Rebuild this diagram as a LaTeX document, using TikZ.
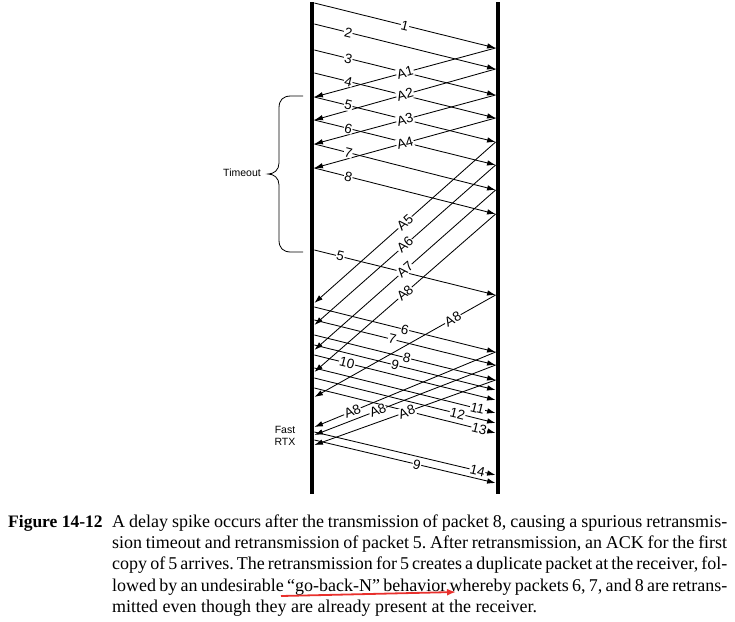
\documentclass[tikz,border=0pt]{standalone}
\usepackage{fontspec}
\setmainfont{Liberation Serif}
\newfontfamily\arialf{Liberation Sans}
\usetikzlibrary{arrows.meta}
\definecolor{redmark}{RGB}{232,48,44}
\begin{document}
\begin{tikzpicture}[x=1pt,y=-1pt,
  pkt/.style={line width=0.85pt,-{Latex[length=8.5pt,width=5.5pt]}},
  lbl/.style={sloped,fill=white,inner sep=0.6pt,font=\arialf\fontsize{13.5}{14}\selectfont},
  bar/.style={line width=4.8pt},
  side/.style={font=\arialf\fontsize{10.5}{12}\selectfont,align=center,inner sep=0},
  capl/.style={anchor=base west,inner sep=0,font=\fontsize{18}{21}\selectfont}]
\useasboundingbox (0,0) rectangle (735,621);
% time lines
\coordinate (ltop) at (312,2); \coordinate (lbot) at (312,494);
\coordinate (rtop) at (498,2); \coordinate (rbot) at (498,494);
\draw[bar] (ltop) -- (lbot);
\draw[bar] (rtop) -- (rbot);
% data packets (left to right)
\foreach \n/\a/\b in {p1/3/48,p2/24/69,p3/50/95,p4/73/118,p5/97/142,p6/120/165,p7/144/190,p8/168/214,
  r5/250/295,q6/307/352,q7/320/365,q8/335/380,q9/345/390,q10/355/400,q11/368/413,q12/378/423,q13/388/433,
  f14/432/475,f9/440/483}{
  \coordinate (\n s) at (314.4,\a);
  \coordinate (\n e) at (495.6,\b);
  \draw[pkt] (\n s) -- (\n e);
}
% acks (right to left)
\foreach \n/\a/\b in {a1/48/97,a2/69/120,a3/95/144,a4/118/168,a5/142/303,a6/165/325,a7/190/350,a8/214/372,
  d1/295/397,d2/352/427,d3/365/435,d4/380/445}{
  \coordinate (\n s) at (495.6,\a);
  \coordinate (\n e) at (314.4,\b);
  \draw[pkt] (\n s) -- (\n e);
}
% labels
\foreach \n/\t/\p in {p1/1/.5,p2/2/.187,p3/3/.187,p4/4/.187,p5/5/.187,p6/6/.187,p7/7/.187,p8/8/.187,
  r5/5/.143,q6/6/.5,q7/7/.43,q8/8/.51,q9/9/.445,q10/10/.18,q11/11/.9,q12/12/.79,q13/13/.91,
  f14/14/.9,f9/9/.566,
  a1/A1/.5,a2/A2/.5,a3/A3/.5,a4/A4/.5,a5/A5/.5,a6/A6/.5,a7/A7/.5,a8/A8/.5,
  d1/A8/.236,d2/A8/.79,d3/A8/.65,d4/A8/.49}{
  \path (\n s) -- node[lbl,pos=\p]{\t} (\n e);
}
% timeout brace
\draw[line width=0.8pt] (303,96) -- (291,96) .. controls (283,96) and (279,100) .. (279,108)
  -- (279,163) .. controls (279,170) and (274,174) .. (268,174)
  .. controls (274,174) and (279,178) .. (279,185) -- (279,240)
  .. controls (279,248) and (283,252) .. (291,252) -- (303,252);
\node[side] (tmo) at (242,173) {Timeout};
\node[side] (frtx) at (285,436) {Fast\\RTX};
% caption
\node[capl,font=\bfseries\fontsize{17.5}{21}\selectfont] (figno) at (8,527) {Figure 14-12};
\node[capl] (c1) at (112,527) {\frenchspacing\makebox[615pt][s]{A delay spike occurs after the transmission of packet 8, causing a spurious retransmis-}};
\node[capl] (c2) at (112,548) {\frenchspacing\makebox[615pt][s]{sion timeout and retransmission of packet 5. After retransmission, an ACK for the first}};
\node[capl] (c3) at (112,569.5) {\frenchspacing\makebox[615pt][s]{copy of 5 arrives. The retransmission for 5 creates a duplicate packet at the receiver, fol-}};
\node[capl] (c4) at (112,591) {\frenchspacing\makebox[615pt][s]{lowed by an undesirable “go-back-N” behavior whereby packets 6, 7, and 8 are retrans-}};
\node[capl] (c5) at (112,612) {\frenchspacing mitted even though they are already present at the receiver.};
% red mark
\coordinate (ra) at (281,596); \coordinate (rb) at (456,592);
\draw[redmark,line width=1.8pt,-{Latex[length=9pt,width=7pt]}] (ra) -- (rb);
\end{tikzpicture}
\end{document}
